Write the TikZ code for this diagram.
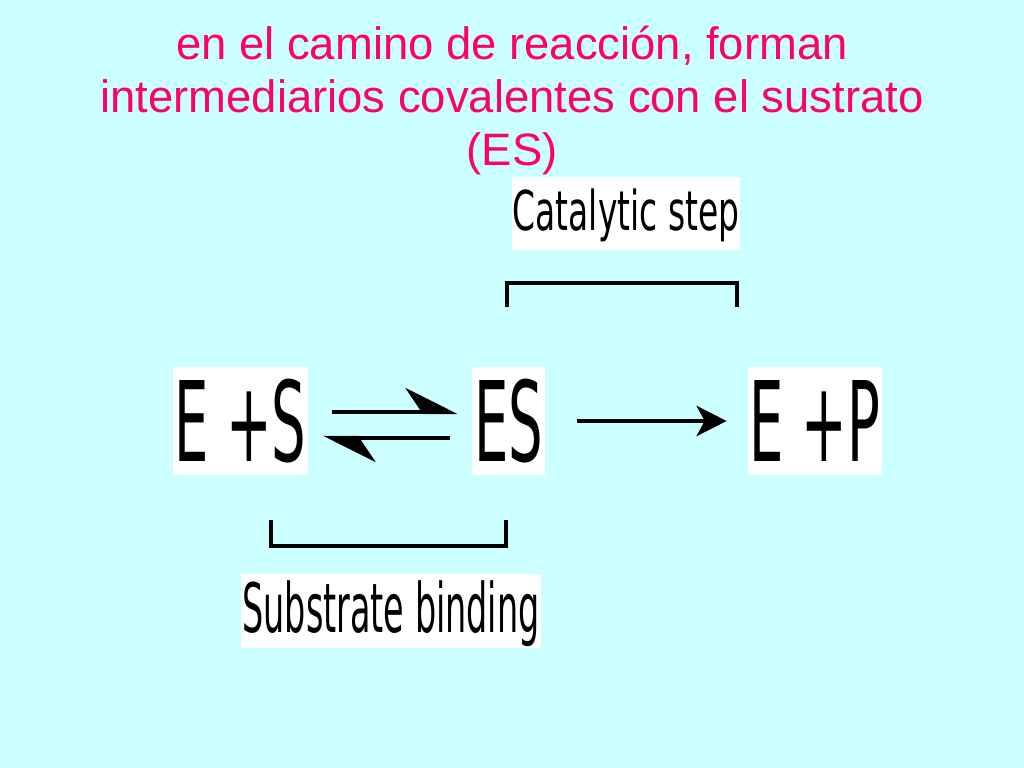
\documentclass[tikz,border=0pt]{standalone}
\usepackage{fontspec}
\setmainfont{Liberation Sans}
\newfontfamily\condfont[FakeStretch=0.49]{DejaVu Sans}
\newfontfamily\labelfont[FakeStretch=0.6]{DejaVu Sans}
\usetikzlibrary{arrows.meta}

\definecolor{slidebg}{HTML}{CCFFFF}
\definecolor{titlepink}{HTML}{FF0066}

\begin{document}
\begin{tikzpicture}[x=0.025cm, y=-0.025cm,
   species/.style={fill=white, inner sep=0pt, minimum height=2.7cm, font=\condfont\fontsize{79}{79}\selectfont},
   steptag/.style={fill=white, inner sep=0pt, text depth=0.2cm, font=\labelfont\fontsize{39}{39}\selectfont},
   bracket/.style={line width=3pt},
   rxn/.style={line width=3pt}]
   %\draw[step=100,gray,very thin] (0,0) grid (1024,768);

   \fill[slidebg] (0,0) rectangle (1024,768);

   \node [text=titlepink, align=center, font=\fontsize{32.3}{37.7}\selectfont] (title) at (512,100)
      {en el camino de reacción, forman\\intermediarios covalentes con el sustrato\\(ES)};

   \node [species, minimum width=3.375cm] (es1) at (240.5,421) {E +S};
   \node [species, minimum width=1.825cm] (es) at (508.5,421) {ES};
   \node [species, minimum width=3.35cm] (ep) at (815,421) {E +P};

   \node [steptag, minimum width=5.7cm, minimum height=1.825cm] (cat) at (626,213.5) {Catalytic step};
   \node [steptag, font=\condfont\fontsize{48.5}{48.5}\selectfont, minimum width=7.5cm, minimum height=1.85cm] (bind) at (391,611) {Substrate binding};

   \draw [rxn, -{Stealth[left, length=1.2cm, width=1.2cm, inset=0.4cm]}, shorten <=0.6cm, shorten >=0.35cm]
      ([yshift=0.225cm]es1.east) -- ([yshift=0.225cm]es.west);
   \draw [rxn, -{Stealth[left, length=1.2cm, width=1.2cm, inset=0.4cm]}, shorten <=0.55cm, shorten >=0.375cm]
      ([yshift=-0.425cm]es.west) -- ([yshift=-0.425cm]es1.east);
   \draw [rxn, line width=3.5pt, -{Stealth[length=0.75cm, width=0.75cm, inset=0.2cm]}, shorten <=0.8cm, shorten >=0.525cm]
      (es) -- (ep);

   \draw [bracket] (507,307) -- (507,283) -- (737,283) -- (737,307);
   \draw [bracket] (271,520) -- (271,546) -- (506,546) -- (506,520);

\end{tikzpicture}
\end{document}
